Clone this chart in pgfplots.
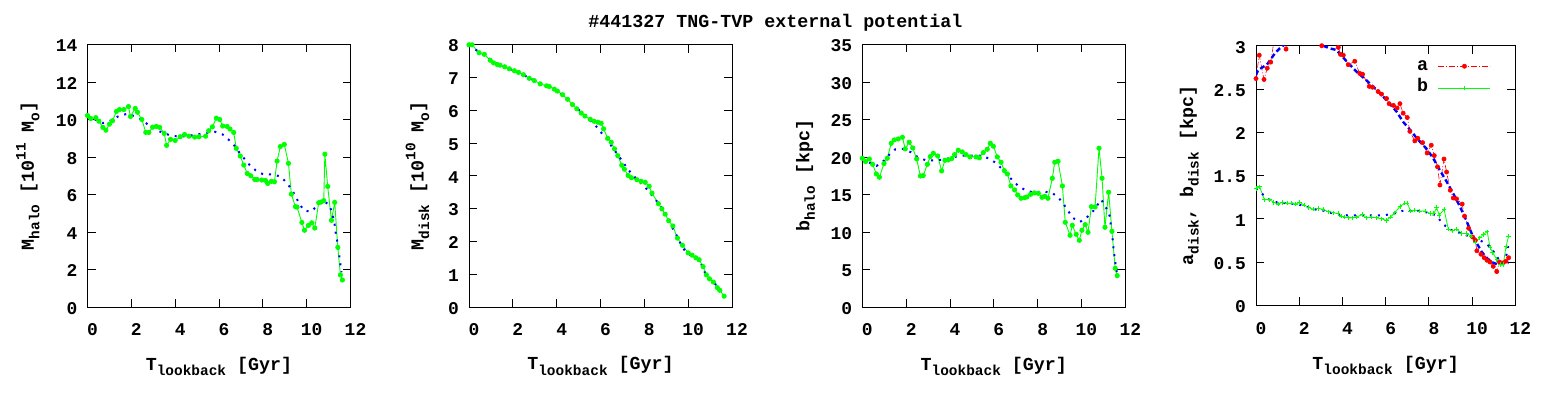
\documentclass[border=0pt]{standalone}
\usepackage{fontspec}
\setmainfont{Liberation Mono}
\usepackage{pgfplots}
\pgfplotsset{compat=1.18}
\newcommand\F{\fontsize{18}{20}\selectfont\bfseries}
\newcommand\FL{\fontsize{18.4}{20}\selectfont\bfseries}
\newcommand\sub[1]{\raisebox{-0.3em}{\fontsize{14.5}{15}\selectfont\bfseries #1}}
\newcommand\sups[1]{\raisebox{0.45em}{\fontsize{14.5}{15}\selectfont\bfseries #1}}
\pgfplotsset{
  panel/.style={
    scale only axis, width=263bp, height=262.5bp,
    xmin=0, xmax=12, xtick={0,2,...,12},
    tick align=inside, xtick pos=both, ytick pos=both,
    major tick length=8bp, minor tick num=0,
    every tick/.style={black, line width=0.8bp},
    axis line style={line width=0.8bp},
    /pgf/number format/assume math mode=true,
    tick label style={font=\F, inner sep=0pt},
    xticklabel style={anchor=base, yshift=-29bp, xshift=5bp},
    yticklabel style={anchor=east, xshift=-10bp, yshift=-1.5bp},
    xlabel={T\sub{lookback} [Gyr]},
    every axis x label/.style={font=\FL, at={(axis description cs:0.5,-0.24)}, anchor=base},
    every axis y label/.style={font=\FL, rotate=90, anchor=base},
  },
  gr/.style={green, line width=0.9bp, mark=*, mark size=2.1bp, mark options={solid, fill=green, draw=green}},
  bl/.style={blue, line width=2bp, dash pattern=on 2bp off 6bp, forget plot},
}
\begin{document}
\begin{tikzpicture}
\path[use as bounding box] (0,0) rectangle (1550bp,400bp);
\node[font=\FL, anchor=base] at (775.5bp,372bp) {\#441327 TNG-TVP external potential};

% Panel 1
\begin{axis}[panel, at={(87.5bp,93bp)}, anchor=south west,
  ymin=0, ymax=14, ytick={0,2,...,14},
  ylabel={M\sub{halo} [10\sups{11} M\sub{o}]},
  ylabel style={at={(axis description cs:-0.204,0.5)}}]
\addplot[gr] coordinates {
(0,10.21)(0.15,10.05)(0.38,10.1)(0.52,9.91)(0.70,9.58)(0.84,9.43)(1.0,9.75)(1.14,9.93)
(1.32,10.43)(1.46,10.53)(1.66,10.53)(1.87,10.69)(1.96,10.16)(2.18,10.59)(2.28,10.39)
(2.48,10.0)(2.66,9.31)(2.80,9.31)(2.97,9.59)(3.14,9.63)(3.29,9.58)(3.50,9.26)(3.61,8.62)
(3.79,8.94)(4.0,8.88)(4.23,9.08)(4.43,9.2)(4.63,9.11)(4.89,9.06)(5.09,9.08)(5.39,9.11)
(5.53,9.4)(5.70,9.61)(5.88,10.07)(6.03,10.0)(6.17,9.65)(6.37,9.63)(6.50,9.49)(6.67,9.31)
(6.79,8.46)(6.97,8.05)(7.13,7.57)(7.29,7.12)(7.45,7.0)(7.63,6.8)(7.74,6.8)(7.95,6.77)
(8.12,6.75)(8.22,6.59)(8.39,6.70)(8.53,6.68)(8.65,7.78)(8.80,8.56)(8.98,8.67)(9.17,7.66)
(9.30,6.02)(9.49,5.35)(9.56,5.33)(9.78,4.51)(9.90,4.09)(10.08,4.35)(10.23,4.49)(10.37,4.21)
(10.55,5.56)(10.66,5.60)(10.78,5.67)(10.83,8.15)(10.96,6.43)(11.13,4.62)(11.28,5.58)
(11.42,3.18)(11.54,1.71)(11.63,1.44)};
\addplot[bl] coordinates {
(0,10.18)(0.35,10.0)(0.7,9.81)(1.08,9.95)(1.42,10.18)(1.8,10.3)(2.14,10.18)(2.45,10.0)
(2.79,9.7)(3.17,9.43)(3.44,9.29)(3.79,9.15)(4.2,9.08)(4.6,9.13)(5.0,9.2)(5.42,9.29)
(5.83,9.34)(6.17,9.2)(6.46,8.9)(6.72,8.58)(6.93,8.24)(7.17,7.89)(7.4,7.57)(7.68,7.28)
(8.0,7.09)(8.45,7.07)(8.83,6.95)(9.07,6.64)(9.32,6.27)(9.5,5.88)(9.68,5.47)(9.9,5.13)
(10.23,5.1)(10.5,5.44)(10.75,5.67)(11.04,5.44)(11.18,4.94)(11.27,4.46)(11.33,3.93)
(11.41,3.39)(11.47,2.9)(11.53,2.36)(11.59,1.85)};
\end{axis}

% Panel 2
\begin{axis}[panel, at={(469bp,93bp)}, anchor=south west,
  ymin=0, ymax=8, ytick={0,1,...,8},
  ylabel={M\sub{disk} [10\sups{10} M\sub{o}]},
  ylabel style={at={(axis description cs:-0.173,0.5)}}]
\addplot[gr] coordinates {
(0,7.99)(0.14,7.99)(0.46,7.75)(0.70,7.70)(0.97,7.52)(1.12,7.44)(1.29,7.39)(1.41,7.37)
(1.63,7.32)(1.84,7.26)(2.07,7.20)(2.26,7.15)(2.48,7.08)(2.75,6.97)(2.98,6.90)(3.25,6.80)
(3.54,6.74)(3.66,6.72)(3.89,6.64)(4.03,6.58)(4.27,6.47)(4.50,6.33)(4.72,6.17)(4.92,6.04)
(5.12,5.91)(5.29,5.82)(5.53,5.72)(5.71,5.66)(5.88,5.63)(6.03,5.60)(6.14,5.43)(6.33,5.14)
(6.49,5.02)(6.64,4.82)(6.79,4.61)(6.97,4.32)(7.09,4.20)(7.26,4.01)(7.41,3.94)(7.66,3.88)
(7.85,3.83)(8.04,3.80)(8.22,3.68)(8.35,3.47)(8.64,3.15)(8.80,2.99)(8.95,2.83)(9.11,2.63)
(9.30,2.47)(9.51,2.10)(9.74,1.88)(10.0,1.65)(10.18,1.58)(10.35,1.50)(10.50,1.44)
(10.68,1.23)(10.83,0.98)(10.97,0.86)(11.15,0.76)(11.33,0.59)(11.44,0.51)(11.64,0.33)};
\addplot[bl] coordinates {
(0,7.99)(0.35,7.82)(0.7,7.69)(0.95,7.55)(1.25,7.42)(1.7,7.30)(2.1,7.19)(2.55,7.05)
(3.0,6.89)(3.5,6.76)(3.95,6.6)(4.4,6.40)(4.9,6.08)(5.3,5.82)(5.6,5.64)(5.85,5.47)
(6.1,5.26)(6.35,5.07)(6.55,4.85)(6.8,4.63)(7.0,4.44)(7.2,4.24)(7.45,4.04)(7.7,3.86)
(8.0,3.68)(8.25,3.48)(8.5,3.28)(8.75,3.07)(9.0,2.80)(9.25,2.45)(9.5,2.15)(9.75,1.80)
(10.0,1.62)(10.3,1.52)(10.55,1.38)(10.8,0.99)(11.1,0.80)(11.35,0.62)(11.6,0.42)};
\end{axis}

% Panel 3
\begin{axis}[panel, at={(862.3bp,93bp)}, anchor=south west,
  ymin=0, ymax=35, ytick={0,5,...,35},
  ylabel={b\sub{halo} [kpc]},
  ylabel style={at={(axis description cs:-0.2015,0.5)}}]
\addplot[gr] coordinates {
(0,19.83)(0.15,19.39)(0.32,19.74)(0.47,19.03)(0.64,17.74)(0.78,17.30)(0.99,19.12)
(1.14,19.83)(1.32,21.83)(1.46,22.28)(1.64,22.41)(1.83,22.63)(1.96,21.08)(2.14,21.97)
(2.30,21.21)(2.48,19.74)(2.65,17.47)(2.78,17.52)(2.97,19.03)(3.10,20.05)(3.24,20.50)
(3.44,20.14)(3.62,18.14)(3.77,19.56)(3.92,19.61)(4.08,19.79)(4.21,20.32)(4.38,20.90)
(4.56,20.68)(4.73,20.32)(4.91,20.01)(5.19,20.01)(5.34,19.88)(5.52,20.59)(5.70,21.03)
(5.84,21.83)(5.98,21.43)(6.16,20.01)(6.33,19.30)(6.48,18.19)(6.62,17.74)(6.78,16.14)
(6.95,15.61)(7.09,14.94)(7.24,14.50)(7.41,14.58)(7.51,14.67)(7.68,15.03)(7.85,15.21)
(8.03,15.16)(8.20,14.63)(8.33,14.76)(8.47,14.50)(8.67,17.16)(8.78,19.30)(8.93,19.43)
(9.13,16.14)(9.26,11.29)(9.48,9.56)(9.58,10.89)(9.76,9.69)(9.90,8.89)(10.02,10.23)
(10.17,10.98)(10.30,9.96)(10.45,13.38)(10.62,13.34)(10.80,21.17)(10.94,17.16)
(11.07,10.63)(11.24,15.30)(11.39,10.09)(11.54,5.16)(11.63,4.18)};
\addplot[bl] coordinates {
(0,19.83)(0.32,19.25)(0.65,18.81)(0.99,19.52)(1.22,20.28)(1.51,21.03)(1.87,21.08)
(2.22,20.63)(2.52,20.01)(2.89,19.56)(3.28,19.56)(3.71,19.65)(4.12,19.97)(4.53,20.19)
(4.94,20.19)(5.37,20.19)(5.76,19.83)(6.07,19.25)(6.34,18.50)(6.60,17.70)(6.86,16.85)
(7.12,16.14)(7.45,15.56)(7.83,15.25)(8.24,15.39)(8.64,15.25)(8.94,14.63)(9.17,13.78)
(9.39,12.81)(9.61,11.87)(9.93,11.34)(10.24,11.92)(10.54,12.81)(10.90,14.32)(11.12,13.25)
(11.30,12.05)(11.34,10.80)(11.41,9.52)(11.45,8.14)(11.50,6.85)(11.56,5.56)(11.63,4.27)};
\end{axis}

% Panel 4
\begin{axis}[panel, at={(1256bp,94.7bp)}, anchor=south west,
  width=259.3bp, height=259.6bp,
  ymin=0, ymax=3, ytick={0,0.5,...,3},
  ylabel={a\sub{disk}, b\sub{disk} [kpc]},
  ylabel style={at={(axis description cs:-0.243,0.5)}},
  every axis x label/.style={font=\FL, at={(axis description cs:0.5,-0.2465)}, anchor=base},
  legend plot pos=right,
  legend image code/.code={\draw[mark repeat=2,mark phase=2,#1] plot coordinates {(0bp,0bp) (26bp,0bp) (52bp,0bp)};},
  legend style={draw=none, fill=none, font=\FL, at={(axis description cs:0.918,0.96)}, anchor=north east,
    nodes={inner sep=0pt, text height=12bp, text depth=4bp}, row sep=5.7bp, column sep=10bp},
  ]
\addplot[red, line width=0.6bp, dash pattern=on 6bp off 2bp on 1bp off 2bp, mark=*, mark size=2.1bp, mark options={solid, fill=red, draw=red}] coordinates {
(0,2.62)(0.15,2.89)(0.37,2.61)(0.52,2.74)(0.68,2.81)(0.85,3.08)(1.05,3.2)(1.2,3.1)(1.39,2.96)
(1.6,3.15)(2.0,3.3)(2.4,3.3)(2.8,3.15)(3.04,3.0)(3.3,3.08)(3.55,3.05)(3.81,2.98)
(3.91,2.90)(4.04,2.89)(4.27,2.78)(4.57,2.82)(4.80,2.68)(4.93,2.67)(5.24,2.53)(5.39,2.52)
(5.65,2.47)(5.81,2.44)(6.04,2.39)(6.16,2.33)(6.36,2.31)(6.53,2.28)(6.66,2.33)(6.81,2.22)
(7.0,2.17)(7.12,2.01)(7.35,1.90)(7.49,1.93)(7.71,1.88)(7.92,1.76)(8.11,1.85)(8.25,1.73)
(8.40,1.60)(8.51,1.39)(8.70,1.69)(8.82,1.54)(8.99,1.33)(9.13,1.24)(9.28,1.23)(9.54,1.17)
(9.65,1.03)(9.84,0.89)(10.02,0.79)(10.15,0.75)(10.22,0.63)(10.41,0.59)(10.56,0.55)
(10.69,0.52)(10.83,0.50)(10.98,0.45)(11.14,0.39)(11.27,0.50)(11.44,0.49)(11.57,0.51)(11.69,0.55)};
\addlegendentry{a}
\addplot[green, line width=0.8bp, mark=+, mark size=2.2bp, mark options={solid}] coordinates {
(0,1.35)(0.17,1.37)(0.39,1.22)(0.63,1.22)(0.82,1.19)(1.02,1.17)(1.22,1.19)(1.44,1.18)
(1.64,1.18)(1.84,1.17)(2.02,1.19)(2.22,1.16)(2.44,1.13)(2.64,1.11)(2.87,1.12)(3.10,1.11)
(3.35,1.08)(3.57,1.07)(3.80,1.06)(3.95,1.03)(4.11,1.02)(4.29,1.01)(4.46,1.01)(4.65,1.02)
(4.93,1.05)(5.11,1.01)(5.34,1.02)(5.58,1.01)(5.81,1.00)(6.04,0.98)(6.22,1.02)(6.42,1.07)
(6.66,1.14)(6.89,1.18)(7.0,1.18)(7.15,1.09)(7.35,1.10)(7.58,1.09)(7.82,1.09)(8.05,1.06)
(8.23,1.06)(8.36,1.13)(8.48,1.04)(8.70,1.11)(8.90,0.88)(9.10,0.86)(9.28,0.88)(9.51,0.83)
(9.75,0.83)(9.95,0.80)(10.13,0.73)(10.36,0.78)(10.52,0.82)(10.70,0.85)(10.83,0.67)
(10.95,0.61)(11.14,0.53)(11.29,0.47)(11.44,0.47)(11.57,0.68)(11.69,0.80)};
\addlegendentry{b}
\addplot[blue, line width=2.4bp, dash pattern=on 5bp off 3bp, forget plot] coordinates {
(0,2.66)(0.1,2.72)(0.3,2.75)(0.5,2.78)(0.7,2.85)(0.9,2.92)(1.1,2.97)(1.3,3.01)(1.8,3.1)
(2.3,3.13)(2.8,3.08)(3.1,3.0)(3.4,2.97)(3.72,2.95)(4.19,2.82)(4.65,2.70)(5.11,2.60)(5.58,2.49)
(6.04,2.37)(6.50,2.24)(6.81,2.12)(7.12,2.03)(7.51,1.91)(7.89,1.81)(8.2,1.70)(8.51,1.56)
(8.82,1.43)(9.13,1.29)(9.44,1.14)(9.75,0.97)(9.98,0.83)(10.21,0.72)(10.44,0.62)
(10.67,0.55)(10.90,0.50)(11.21,0.47)(11.44,0.48)(11.68,0.49)};
\addplot[bl] coordinates {
(0,1.35)(0.32,1.28)(0.63,1.22)(0.97,1.19)(1.41,1.18)(1.84,1.17)(2.24,1.15)(2.63,1.11)
(3.03,1.10)(3.44,1.07)(3.83,1.05)(4.22,1.04)(4.63,1.04)(5.05,1.04)(5.45,1.04)(5.93,1.04)
(6.38,1.06)(6.76,1.09)(7.21,1.09)(7.66,1.09)(8.09,1.06)(8.36,1.03)(8.66,0.94)(8.93,0.88)
(9.28,0.85)(9.59,0.82)(9.95,0.79)(10.29,0.76)(10.59,0.72)(10.86,0.67)(11.10,0.58)
(11.29,0.51)(11.44,0.49)(11.60,0.59)(11.69,0.71)};
\end{axis}
\end{tikzpicture}
\end{document}
